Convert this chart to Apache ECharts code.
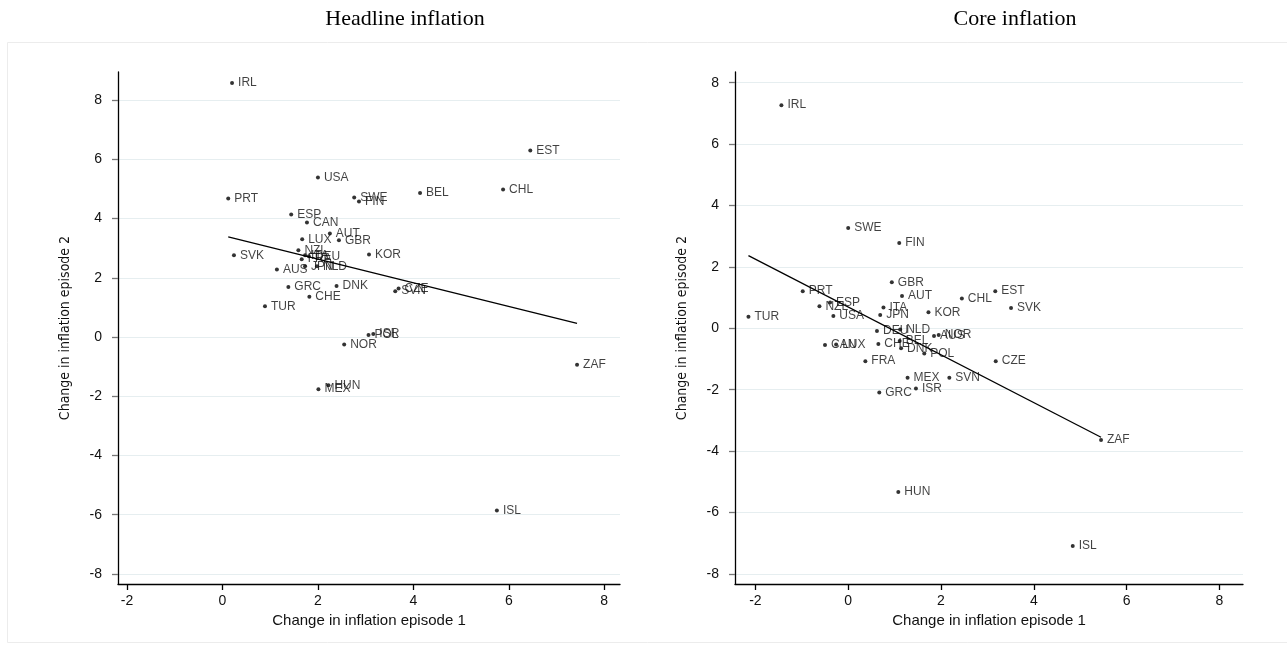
<!DOCTYPE html>
<html>
<head>
<meta charset="utf-8">
<script src="https://cdn.jsdelivr.net/npm/echarts@6/dist/echarts.min.js"></script>
<style>
html,body{margin:0;padding:0;background:#fff;}
#c{width:1287px;height:652px;}
</style>
</head>
<body>
<div id="c"></div>
<script>
// ---------- data ----------
const headlineCountries = ['IRL','EST','USA','PRT','SWE','FIN','BEL','CHL','ESP','CAN','AUT','LUX','GBR','NZL','SVK','KOR','ITA','DEU','FRA','JPN','NLD','AUS','GRC','DNK','CZE','SVN','CHE','TUR','POL','ISR','NOR','HUN','MEX','ZAF','ISL'];
const headlineX = [0.20,6.45,2.00,0.12,2.76,2.86,4.14,5.88,1.44,1.77,2.25,1.67,2.44,1.59,0.24,3.07,1.73,1.81,1.66,1.73,1.98,1.14,1.38,2.39,3.69,3.62,1.82,0.89,3.06,3.16,2.55,2.22,2.01,7.43,5.75];
const headlineY = [8.58,6.30,5.39,4.68,4.71,4.58,4.86,4.98,4.14,3.87,3.50,3.30,3.27,2.93,2.76,2.79,2.76,2.73,2.63,2.39,2.39,2.28,1.69,1.72,1.64,1.55,1.36,1.04,0.07,0.10,-0.25,-1.63,-1.76,-0.94,-5.86];

const coreCountries = ['IRL','SWE','FIN','GBR','PRT','AUT','CHL','EST','ESP','NZL','ITA','SVK','TUR','USA','JPN','KOR','DEU','NLD','AUS','NOR','CAN','LUX','CHE','BEL','DNK','POL','FRA','CZE','MEX','SVN','ISR','GRC','ZAF','HUN','ISL'];
const coreX = [-1.44,0.00,1.10,0.94,-0.98,1.16,2.45,3.17,-0.39,-0.62,0.76,3.51,-2.15,-0.32,0.69,1.73,0.62,1.12,1.85,1.95,-0.50,-0.26,0.65,1.11,1.14,1.64,0.37,3.18,1.28,2.18,1.46,0.67,5.45,1.08,4.84];
const coreY = [7.27,3.27,2.78,1.50,1.21,1.05,0.97,1.21,0.84,0.72,0.68,0.66,0.38,0.40,0.43,0.52,-0.09,-0.04,-0.25,-0.22,-0.54,-0.53,-0.51,-0.41,-0.65,-0.82,-1.07,-1.07,-1.61,-1.61,-1.96,-2.09,-3.64,-5.33,-7.09];

const headlineFitX = [0.12, 7.43];
const headlineFitY = [3.38, 0.46];
const coreFitX = [-2.15, 5.45];
const coreFitY = [2.37, -3.55];

const xTicks = [-2, 0, 2, 4, 6, 8];
const yTicks = [-8, -6, -4, -2, 0, 2, 4, 6, 8];

const titles = ['Headline inflation', 'Core inflation'];
const xName = 'Change in inflation episode 1';
const yName = 'Change in inflation episode 2';

// ---------- chart ----------
const chart = echarts.init(document.getElementById('c'), null, {renderer: 'canvas'});
const sans = "'Liberation Sans', Arial, sans-serif";
const narrow = "'Liberation Sans Narrow', 'DejaVu Sans Condensed', sans-serif";
const serif = "'Liberation Serif', 'Times New Roman', serif";

function xAxis(gi, min, max) {
  return {
    type: 'value', gridIndex: gi, min: min, max: max,
    name: xName, nameLocation: 'middle', nameGap: 24,
    nameTextStyle: {fontFamily: sans, fontSize: 15, color: '#111'},
    axisLine: {show: true, onZero: false, lineStyle: {color: '#000', width: 1.3}},
    axisTick: {show: true, inside: false, length: 6, customValues: xTicks, lineStyle: {color: '#000', width: 1.3}},
    axisLabel: {show: true, margin: 10, customValues: xTicks, fontFamily: sans, fontSize: 14, color: '#111'},
    splitLine: {show: false}
  };
}
function yAxis(gi, min, max) {
  return {
    type: 'value', gridIndex: gi, min: min, max: max,
    name: yName, nameLocation: 'middle', nameGap: 46,
    nameTextStyle: {fontFamily: narrow, fontSize: 14, color: '#111'},
    axisLine: {show: true, onZero: false, lineStyle: {color: '#000', width: 1.3}},
    axisTick: {show: true, inside: false, length: 6, customValues: yTicks, lineStyle: {color: '#777', width: 1.3}},
    axisLabel: {show: true, margin: 16, customValues: yTicks, fontFamily: sans, fontSize: 14, color: '#111'},
    splitLine: {show: false}
  };
}
function gridSeries(gi) {
  return {
    type: 'line', xAxisIndex: gi, yAxisIndex: gi, data: [], z: 0, silent: true,
    markLine: {
      silent: true, symbol: 'none', label: {show: false}, animation: false, z: 0,
      lineStyle: {color: '#e6eef0', width: 1.2, type: 'solid'},
      data: yTicks.map(v => ({yAxis: v}))
    }
  };
}
function scatter(gi, names, xs, ys) {
  return {
    type: 'scatter', xAxisIndex: gi, yAxisIndex: gi,
    symbol: 'circle', symbolSize: 4,
    itemStyle: {color: '#000'},
    data: xs.map((x, i) => [x, ys[i], names[i]]),
    label: {show: true, position: 'right', distance: 4, formatter: p => p.data[2],
            fontFamily: sans, fontSize: 12, color: '#111'},
    labelLayout: {hideOverlap: false},
    z: 3
  };
}
function fit(gi, xs, ys) {
  return {
    type: 'line', xAxisIndex: gi, yAxisIndex: gi,
    data: xs.map((x, i) => [x, ys[i]]),
    symbol: 'none', lineStyle: {color: '#000', width: 1.3},
    silent: true, z: 6
  };
}

chart.setOption({
  animation: false,
  backgroundColor: '#fff',
  graphic: [
    {type: 'rect', shape: {x: 7.5, y: 42.5, width: 1300, height: 600}, style: {fill: '#fff', stroke: '#ececec', lineWidth: 1}, z: -10, silent: true},
    {type: 'text', x: 405, y: 19, style: {text: titles[0], fontFamily: serif, fontSize: 22, fill: '#000', textAlign: 'center', textVerticalAlign: 'middle'}},
    {type: 'text', x: 1015, y: 19, style: {text: titles[1], fontFamily: serif, fontSize: 22, fill: '#000', textAlign: 'center', textVerticalAlign: 'middle'}}
  ],
  grid: [
    {left: 118, top: 72, right: 1287 - 620, bottom: 652 - 584, containLabel: false},
    {left: 735, top: 72, right: 1287 - 1243, bottom: 652 - 584, containLabel: false}
  ],
  xAxis: [xAxis(0, -2.19, 8.33), xAxis(1, -2.44, 8.51)],
  yAxis: [yAxis(0, -8.34, 8.95), yAxis(1, -8.33, 8.35)],
  series: [
    gridSeries(0),
    gridSeries(1),
    scatter(0, headlineCountries, headlineX, headlineY),
    fit(0, headlineFitX, headlineFitY),
    scatter(1, coreCountries, coreX, coreY),
    fit(1, coreFitX, coreFitY)
  ]
});
</script>
</body>
</html>
